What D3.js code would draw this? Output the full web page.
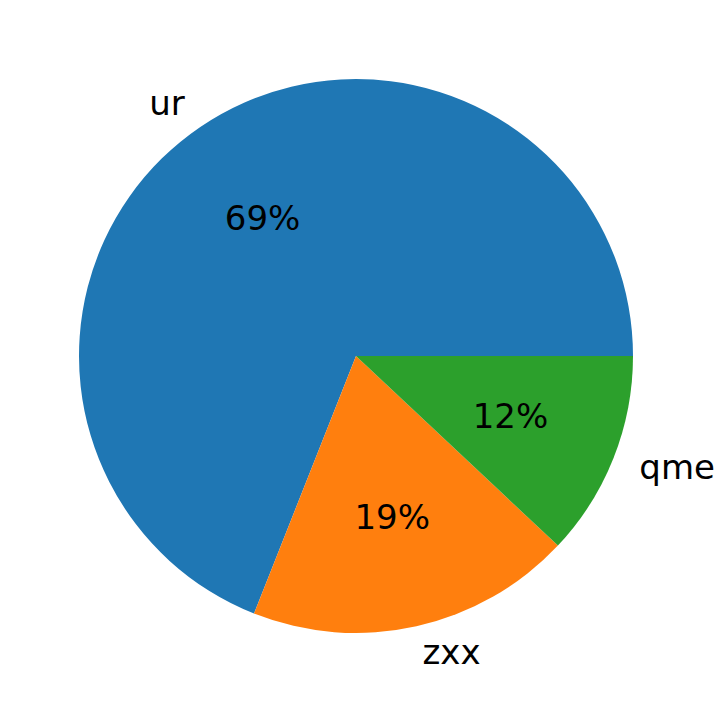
<!DOCTYPE html>
<html><head><meta charset="utf-8">
<script src="https://cdn.jsdelivr.net/npm/d3@7"></script>
<style>body{margin:0;background:#fff}</style>
</head><body>
<svg id="c" width="726" height="713"></svg>
<script>
const categories = ["ur", "zxx", "qme"];
const values = [69, 19, 12];
const colors = ["#1f77b4", "#ff7f0e", "#2ca02c"];

const svg = d3.select("#c");
const cx = 356, cy = 356, R = 277;
const fontSize = 34;
const g = svg.append("g").attr("transform", `translate(${cx},${cy})`);

// matplotlib: start at 3 o'clock, counterclockwise. d3 angles: 0 at 12 o'clock, clockwise.
const pie = d3.pie().sort(null).value(d => d)
  .startAngle(Math.PI / 2).endAngle(Math.PI / 2 - 2 * Math.PI);
const arcs = pie(values);
const arc = d3.arc().innerRadius(0).outerRadius(R);

g.selectAll("path").data(arcs).join("path")
  .attr("d", arc).attr("fill", (d, i) => colors[i]);

const total = d3.sum(values);
arcs.forEach((a, i) => {
  const mid = (a.startAngle + a.endAngle) / 2; // d3 angle
  const sx = Math.sin(mid), sy = -Math.cos(mid);
  const lx = 1.1 * R * sx, ly = 1.1 * R * sy;
  g.append("text")
    .attr("x", lx).attr("y", ly - 1)
    .attr("text-anchor", lx < 0 ? "end" : "start")
    .attr("dominant-baseline", "central")
    .attr("font-family", "DejaVu Sans")
    .attr("font-size", fontSize)
    .text(categories[i]);
  const px = 0.6 * R * sx, py = 0.6 * R * sy;
  g.append("text")
    .attr("x", px).attr("y", py - 1)
    .attr("text-anchor", "middle")
    .attr("dominant-baseline", "central")
    .attr("font-family", "DejaVu Sans")
    .attr("font-size", fontSize)
    .text(Math.round(values[i] / total * 100) + "%");
});
</script>
</body></html>
